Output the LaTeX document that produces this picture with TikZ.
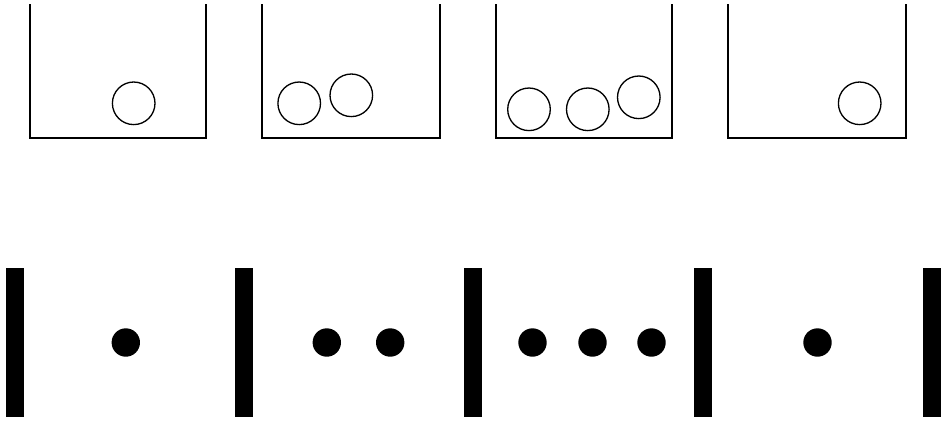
\documentclass[tikz,border=0pt]{standalone}
\usepackage{tikz}
\usetikzlibrary{positioning}

\begin{document}
\begin{tikzpicture}[x=0.02cm,y=-0.02cm, urn/.style={line width=0.8pt}, ball/.style={circle,draw,line width=0.75pt,inner sep=0pt,minimum size=0.852cm}, dot/.style={circle,fill=black,inner sep=0pt,minimum size=0.568cm}, bar/.style={rectangle,fill=black,inner sep=0pt,minimum width=0.36cm,minimum height=2.98cm}]
\useasboundingbox (0,0) rectangle (947,424);
% upper row: urns with balls
\draw[urn] (30,4)--(30,138)--(206,138)--(206,4);
\draw[urn] (262,4)--(262,138)--(440,138)--(440,4);
\draw[urn] (496,4)--(496,138)--(672,138)--(672,4);
\draw[urn] (728,4)--(728,138)--(906,138)--(906,4);
\node[ball] (a1) at (133.7,103.3) {};
\node[ball] (b1) at (299.2,103.3) {};
\node[ball] (b2) at (351.3,95.3) {};
\node[ball] (c1) at (529,109.3) {};
\node[ball] (c2) at (587.8,109.3) {};
\node[ball] (c3) at (638.8,97.3) {};
\node[ball] (d1) at (859.7,103.3) {};
% lower row: bars and dots
\node[bar] (s1) at (14.7,342.8) {};
\node[bar] (s2) at (243.8,342.8) {};
\node[bar] (s3) at (473.2,342.8) {};
\node[bar] (s4) at (702.9,342.8) {};
\node[bar] (s5) at (931.5,342.8) {};
\node[dot] (p1) at (125.8,342.5) {};
\node[dot] (q1) at (326.8,342.5) {};
\node[dot] (q2) at (390.2,342.5) {};
\node[dot] (r1) at (532.5,342.5) {};
\node[dot] (r2) at (592.5,342.5) {};
\node[dot] (r3) at (651.5,342.5) {};
\node[dot] (t1) at (817.5,342.5) {};
\end{tikzpicture}
\end{document}
